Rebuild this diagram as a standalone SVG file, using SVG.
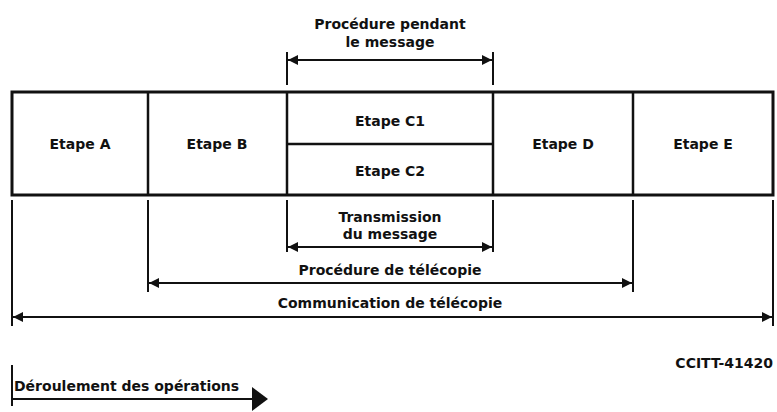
<svg xmlns="http://www.w3.org/2000/svg" width="777" height="412" viewBox="0 0 777 412">
<style>
  text { font-family: "DejaVu Sans", "Liberation Sans", sans-serif; font-weight: bold; font-size: 14px; fill: #111; text-anchor: middle; }
  .box { fill: none; stroke: #111; stroke-width: 3; }
  .div { stroke: #111; stroke-width: 2.5; fill: none; }
  .ext { stroke: #111; stroke-width: 2; fill: none; }
  .dim { stroke: #111; stroke-width: 2; fill: none; marker-start: url(#ah); marker-end: url(#ah); }
</style>
<defs>
  <marker id="ah" viewBox="0 0 10 10" refX="10" refY="5" markerWidth="10" markerHeight="10" markerUnits="userSpaceOnUse" orient="auto-start-reverse">
    <path d="M0,0 L10,5 L0,10 Z" fill="#111"/>
  </marker>
  <marker id="big" viewBox="0 0 16 24" refX="2" refY="12" markerWidth="16" markerHeight="24" markerUnits="userSpaceOnUse" orient="auto">
    <path d="M0,0 L16,12 L0,24 Z" fill="#111"/>
  </marker>
</defs>
<rect width="777" height="412" fill="#fff"/>

<g id="frame">
  <rect class="box" x="12" y="92" width="761" height="103"/>
</g>
<g id="etapeA"><text x="80" y="149">Etape A</text></g>
<g id="etapeB">
  <line class="div" x1="148" y1="92" x2="148" y2="195"/>
  <text x="217" y="149">Etape B</text>
</g>
<g id="etapeC1">
  <line class="div" x1="287" y1="92" x2="287" y2="195"/>
  <line class="div" x1="287" y1="144" x2="493" y2="144"/>
  <text x="390" y="126">Etape C1</text>
</g>
<g id="etapeC2"><text x="390" y="176">Etape C2</text></g>
<g id="etapeD">
  <line class="div" x1="493" y1="92" x2="493" y2="195"/>
  <text x="563" y="149">Etape D</text>
</g>
<g id="etapeE">
  <line class="div" x1="633" y1="92" x2="633" y2="195"/>
  <text x="703" y="149">Etape E</text>
</g>

<g id="connectors">
  <line class="ext" x1="287" y1="52" x2="287" y2="85"/>
  <line class="ext" x1="493" y1="52" x2="493" y2="85"/>
  <line class="dim" x1="288" y1="60" x2="492" y2="60"/>

  <line class="ext" x1="12" y1="200" x2="12" y2="326"/>
  <line class="ext" x1="148" y1="200" x2="148" y2="292"/>
  <line class="ext" x1="287" y1="200" x2="287" y2="252"/>
  <line class="ext" x1="493" y1="200" x2="493" y2="252"/>
  <line class="ext" x1="633" y1="200" x2="633" y2="292"/>
  <line class="ext" x1="773" y1="200" x2="773" y2="326"/>

  <line class="dim" x1="288" y1="247" x2="492" y2="247"/>
  <line class="dim" x1="149" y1="283" x2="632" y2="283"/>
  <line class="dim" x1="13" y1="317" x2="772" y2="317"/>

  <line class="ext" x1="12" y1="365" x2="12" y2="406"/>
  <line x1="12" y1="399" x2="254" y2="399" stroke="#111" stroke-width="2" marker-end="url(#big)"/>
</g>

<g id="labels">
  <text x="390" y="29">Procédure pendant</text>
  <text x="390" y="47">le message</text>
  <text x="390" y="222">Transmission</text>
  <text x="390" y="239">du message</text>
  <text x="390" y="275">Procédure de télécopie</text>
  <text x="390" y="308">Communication de télécopie</text>
  <text x="773" y="368" style="text-anchor:end">CCITT-41420</text>
  <text x="14" y="391" style="text-anchor:start">Déroulement des opérations</text>
</g>
</svg>
